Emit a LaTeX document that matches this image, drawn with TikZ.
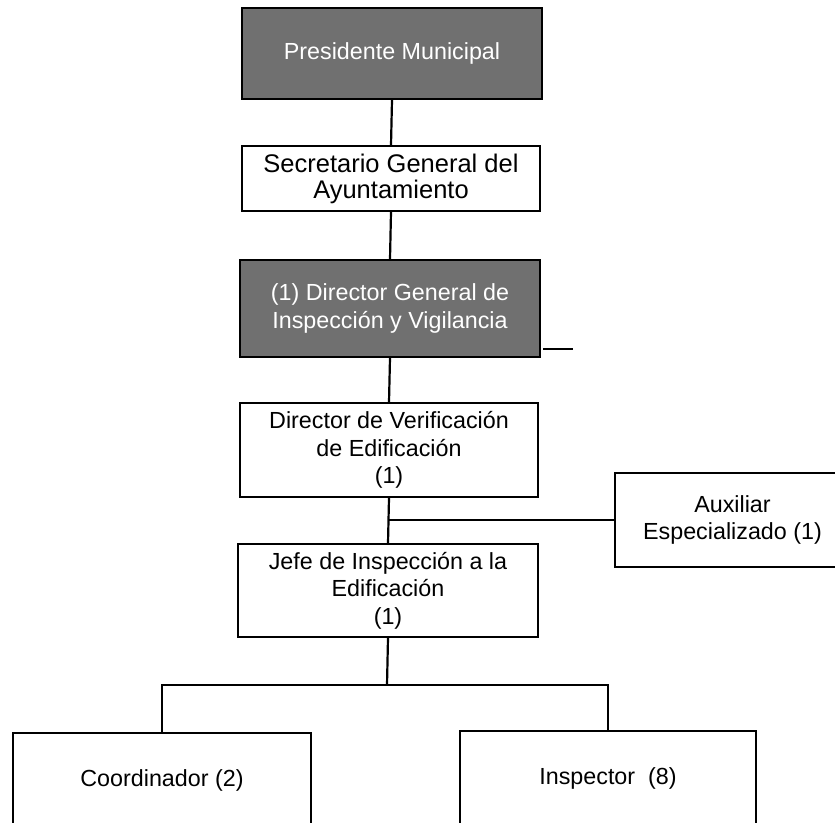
\documentclass[tikz,border=0pt]{standalone}
\usepackage{fontspec}
\setmainfont{Liberation Sans}
\definecolor{boxdark}{RGB}{112,112,112}
\begin{document}
\begin{tikzpicture}[x=1pt,y=-1pt,
  every node/.style={font=\fontsize{23.3}{27.6}\selectfont},
  post/.style={draw=black,line width=1.4pt,fill=white,rectangle,inner sep=0pt,
    align=center,text=black},
  postdark/.style={post,fill=boxdark,text=white},
  link/.style={draw=black,line width=2.2pt}]
\useasboundingbox (0,0) rectangle (835,822);
\clip (0,0) rectangle (835,822);

% Boxes of the chart
\node[postdark,minimum width=300,minimum height=91] (pres) at (392,53.5) {Presidente Municipal};
\node[post,minimum width=298,minimum height=65,font=\fontsize{25.5}{26}\selectfont] (sec) at (391,178.5)
  {Secretario General del\\Ayuntamiento};
\node[postdark,minimum width=300,minimum height=97] (dg) at (390,308.5)
  {(1) Director General de\\Inspección y Vigilancia};
\node[post,minimum width=298,minimum height=94] (dv) at (389,450)
  {Director de Verificación\\de Edificación\\(1)};
\node[post,minimum width=235,minimum height=94] (aux) at (732.5,520)
  {Auxiliar\\Especializado (1)};
\node[post,minimum width=300,minimum height=93] (jefe) at (388,590.5)
  {Jefe de Inspección a la\\Edificación\\(1)};
\node[post,minimum width=298,minimum height=94] (coord) at (162,780) {Coordinador (2)};
\node[post,minimum width=296,minimum height=94] (insp) at (608,778) {Inspector\ \ (8)};

% Reporting lines
\draw[link] (pres.south) -- (sec.north);
\draw[link] (sec.south) -- (dg.north);
\draw[link] (dg.south) -- (dv.north);
\draw[link] (dv.south) -- (jefe.north);
\draw[link] (aux.west) -- (aux.west -| dv.south);

\coordinate (bus) at (387,685);
\draw[link] (jefe.south) -- (bus);
\draw[link] (coord.north) |- (bus) -| (insp.north);

% Short stub beside the general director
\coordinate (stubA) at (543,349);
\coordinate (stubB) at (573,349);
\draw[line width=1.4pt] (stubA) -- (stubB);
\end{tikzpicture}
\end{document}
